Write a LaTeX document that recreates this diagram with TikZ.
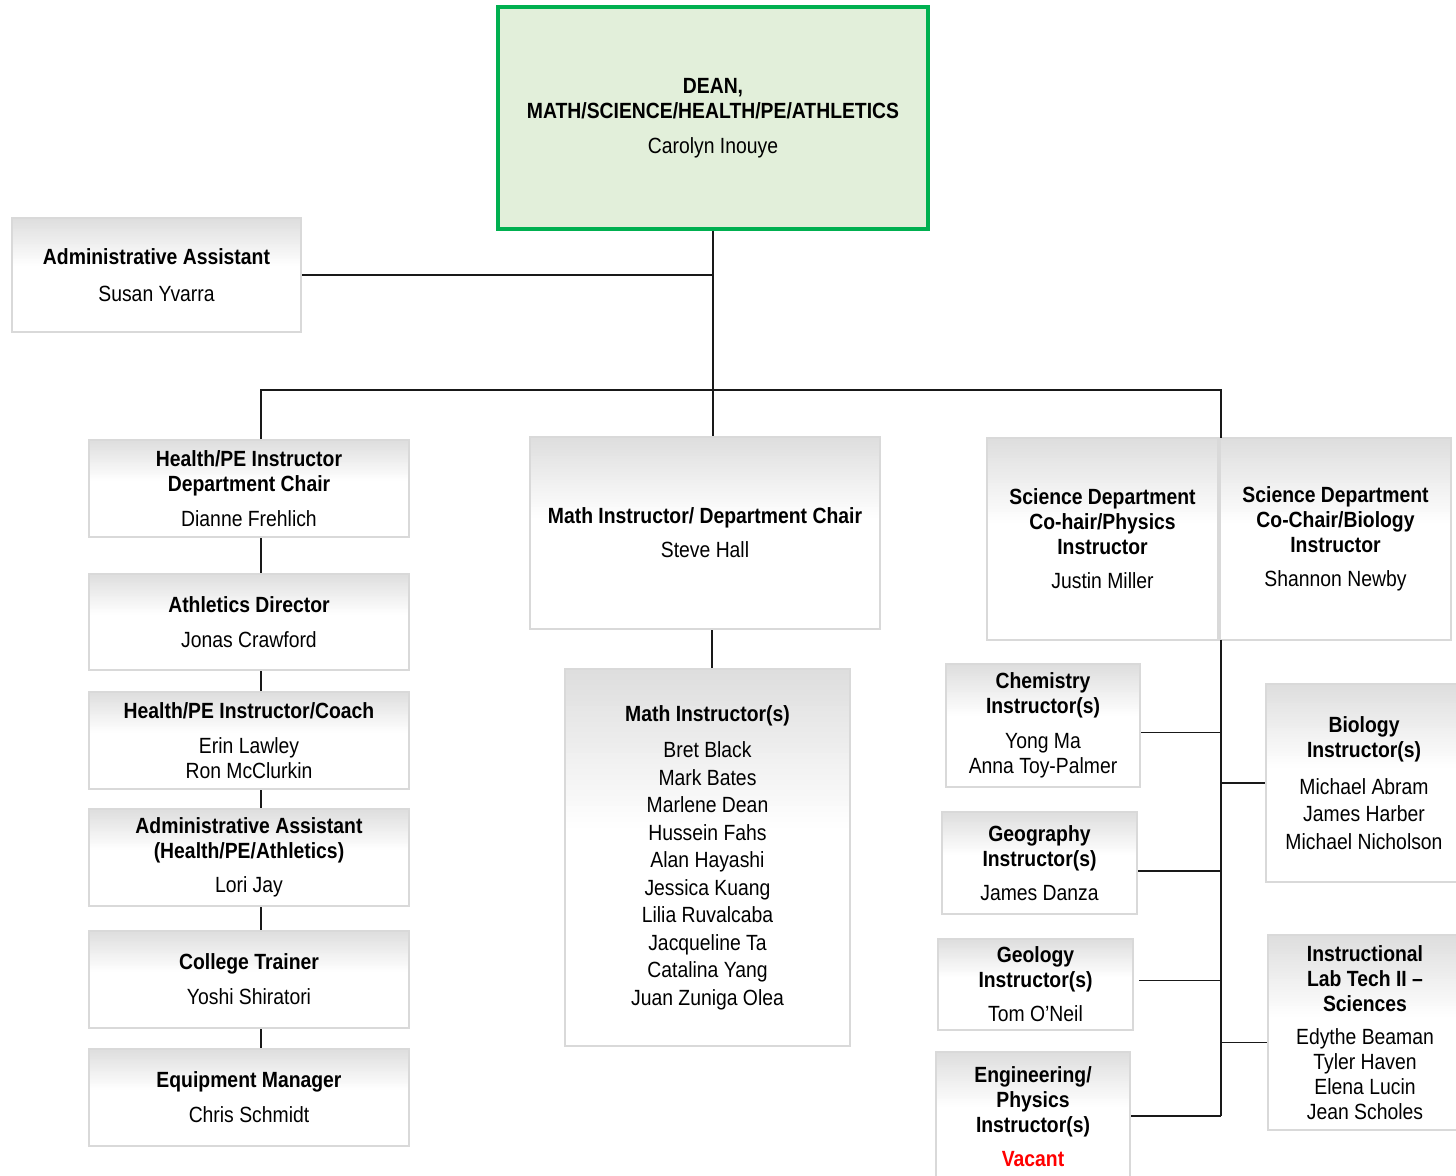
\documentclass[tikz,border=0pt]{standalone}
\usepackage{fontspec}
\setmainfont{Liberation Sans}[FakeStretch=0.88]
\usetikzlibrary{calc}
\definecolor{boxborder}{HTML}{D9D9D9}
\definecolor{gradtop}{HTML}{DEDEDE}
\definecolor{deanfill}{HTML}{E2EFDA}
\definecolor{deanborder}{HTML}{00B050}
\definecolor{vacant}{HTML}{FF0000}
\tikzset{
  orgbox/.style={draw=boxborder, line width=2.5pt, fill=white, inner sep=0pt,
    align=center, font=\fontsize{22}{25}\selectfont,
    path picture={
      \foreach \i [evaluate=\i as \p using {100-100*\i/30},
                   evaluate=\i as \a using {\i/30*0.42},
                   evaluate=\i as \b using {(\i+1.2)/30*0.42}] in {0,...,29}
        \fill[gradtop!\p!white]
          ($(path picture bounding box.north west)!\a!(path picture bounding box.south west)$)
          rectangle
          ($(path picture bounding box.north east)!\b!(path picture bounding box.south east)$);
    }},
  deanbox/.style={draw=deanborder, line width=3.5pt, fill=deanfill, inner sep=0pt,
    align=center, font=\fontsize{22}{25}\selectfont},
  link/.style={draw=black!90, line width=1.2pt},
  widelist/.style={font=\fontsize{22}{27.5}\selectfont}
}
\begin{document}
\begin{tikzpicture}[x=1pt,y=-1pt]
\useasboundingbox (0,0) rectangle (1456,1175);
\fill[white] (0,0) rectangle (1456,1175);

% top
\node[deanbox, minimum width=430, minimum height=222] (dean) at (713,118)
  {\bfseries DEAN,\\\bfseries MATH/SCIENCE/HEALTH/PE/ATHLETICS\\[10pt]Carolyn Inouye};
\node[orgbox, minimum width=289, minimum height=114] (admin) at (156.5,275)
  {\bfseries Administrative Assistant\\[12pt]Susan Yvarra};

% left column
\node[orgbox, minimum width=320, minimum height=97] (hpchair) at (249,488.5)
  {\bfseries Health/PE Instructor\\\bfseries Department Chair\\[10pt]Dianne Frehlich};
\node[orgbox, minimum width=320, minimum height=96] (athl) at (249,622)
  {\bfseries Athletics Director\\[10pt]Jonas Crawford};
\node[orgbox, minimum width=320, minimum height=97] (coach) at (249,740.5)
  {\bfseries Health/PE Instructor/Coach\\[10pt]Erin Lawley\\Ron McClurkin};
\node[orgbox, minimum width=320, minimum height=97] (adminh) at (249,857.5)
  {\bfseries Administrative Assistant\\\bfseries (Health/PE/Athletics)\\[9pt]Lori Jay};
\node[orgbox, minimum width=320, minimum height=97] (trainer) at (249,979.5)
  {\bfseries College Trainer\\[10pt]Yoshi Shiratori};
\node[orgbox, minimum width=320, minimum height=97] (equip) at (249,1097.5)
  {\bfseries Equipment Manager\\[10pt]Chris Schmidt};

% middle column
\node[orgbox, minimum width=350, minimum height=192] (mathchair) at (705,533)
  {\bfseries Math Instructor/ Department Chair\\[9pt]Steve Hall};
\node[orgbox, widelist, minimum width=285, minimum height=377] (mathinst) at (707.5,857.5)
  {\bfseries Math Instructor(s)\\[9pt]Bret Black\\Mark Bates\\Marlene Dean\\Hussein Fahs\\Alan Hayashi\\Jessica Kuang\\Lilia Ruvalcaba\\Jacqueline Ta\\Catalina Yang\\Juan Zuniga Olea};

% science
\node[orgbox, minimum width=231, minimum height=202] (sciphys) at (1102.5,539)
  {\bfseries Science Department\\\bfseries Co-hair/Physics\\\bfseries Instructor\\[9pt]Justin Miller};
\node[orgbox, minimum width=231, minimum height=202] (scibio) at (1335.5,539)
  {\bfseries Science Department\\\bfseries Co-Chair/Biology\\\bfseries Instructor\\[9pt]Shannon Newby};
\node[orgbox, minimum width=194, minimum height=123] (chem) at (1043,725.5)
  {\bfseries Chemistry\\\bfseries Instructor(s)\\[10pt]Yong Ma\\Anna Toy-Palmer};
\node[orgbox, minimum width=195, minimum height=102] (geog) at (1039.5,863)
  {\bfseries Geography\\\bfseries Instructor(s)\\[9pt]James Danza};
\node[orgbox, minimum width=195, minimum height=91] (geol) at (1035.5,984.5)
  {\bfseries Geology\\\bfseries Instructor(s)\\[9pt]Tom O’Neil};
\node[orgbox, minimum width=194, minimum height=130] (eng) at (1033,1117)
  {\bfseries Engineering/\\\bfseries Physics\\\bfseries Instructor(s)\\[9pt]\textcolor{vacant}{\bfseries Vacant}};
\node[orgbox, widelist, minimum width=196, minimum height=198] (bio) at (1364,783)
  {\bfseries Biology\\[-2.5pt]\bfseries Instructor(s)\\[9pt]Michael Abram\\James Harber\\Michael Nicholson};
\node[orgbox, minimum width=194, minimum height=195] (lab) at (1365,1032.5)
  {\bfseries Instructional\\\bfseries Lab Tech II --\\\bfseries Sciences\\[8pt]Edythe Beaman\\Tyler Haven\\Elena Lucin\\Jean Scholes};

% connectors
\coordinate (bar) at (713,390);
\coordinate (scitop) at (1221,438);
\coordinate (scibot) at (1221,640);
\coordinate (spineend) at (1221,1116);
\draw[link] (dean.south) -- (dean.south |- mathchair.north);
\draw[link] (admin.east) -- (admin.east -| dean.south);
\draw[link] ([xshift=12pt]hpchair.north) |- (bar) -| (scitop);
\draw[link] ([xshift=12pt]hpchair.south) -- ([xshift=12pt]athl.north);
\draw[link] ([xshift=12pt]athl.south) -- ([xshift=12pt]coach.north);
\draw[link] ([xshift=12pt]coach.south) -- ([xshift=12pt]adminh.north);
\draw[link] ([xshift=12pt]adminh.south) -- ([xshift=12pt]trainer.north);
\draw[link] ([xshift=12pt]trainer.south) -- ([xshift=12pt]equip.north);
\draw[link] ([xshift=7pt]mathchair.south) -- ([xshift=7pt]mathchair.south |- mathinst.north);
\draw[link] (scibot) -- (spineend);
\draw[link] ([yshift=-7pt]chem.east) -- ([yshift=-7pt]chem.east -| scibot);
\draw[link] ([yshift=-8pt]geog.east) -- ([yshift=-8pt]geog.east -| scibot);
\draw[link] ([yshift=4pt,xshift=5pt]geol.east) -- ([yshift=4pt]geol.east -| scibot);
\draw[link] (eng.east |- spineend) -- (spineend);
\draw[link] (bio.west -| scibot) -- (bio.west);
\draw[link] ([yshift=-10pt]lab.west -| scibot) -- ([yshift=-10pt]lab.west);
\end{tikzpicture}
\end{document}
